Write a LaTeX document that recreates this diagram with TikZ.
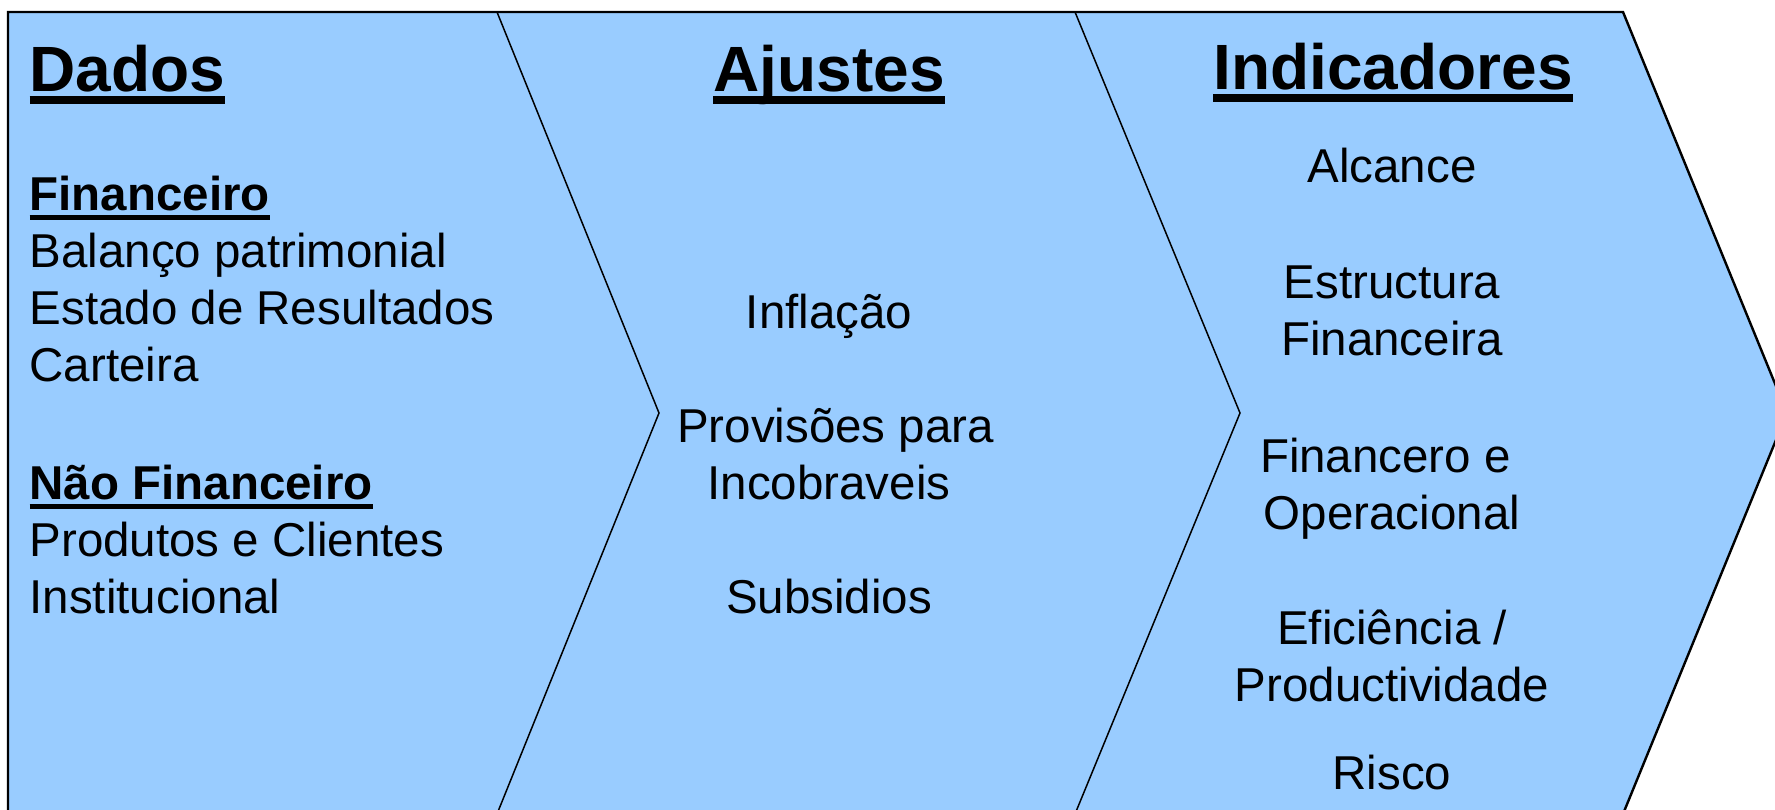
\documentclass[tikz,border=0pt]{standalone}
\usepackage{fontspec}
\setmainfont{Liberation Sans}
\definecolor{panel}{RGB}{153,204,255}
\newcommand{\thickul}[3]{\setbox0=\hbox{#1}\rlap{\rule[-#2]{\wd0}{#3}}\box0}

\begin{document}
\begin{tikzpicture}[x = 0.5pt, y = -0.5pt, semithick]
\tikzstyle{title}=[inner sep = 0pt, font = \fontsize{32}{38}\selectfont\bfseries]
\tikzstyle{entry}=[inner sep = 0pt, font = \fontsize{23.75}{28.5}\selectfont]
\tikzstyle{outline}=[draw = black, line width = 1.2pt, fill = panel]
\tikzstyle{divider}=[draw = black, line width = 0.75pt]

\useasboundingbox (0,0) rectangle (1775,809);
\clip (0,0) rectangle (1775,809);

% the three chevrons
\coordinate (NW) at (8,12);
\coordinate (SW) at (8,814);
\coordinate (tip) at (1787,413);
\draw[outline] (NW) -- (1623,12) -- (tip) -- (1623,814) -- (SW) -- cycle;
\coordinate (tipA) at (659,413);
\coordinate (tipB) at (1240,413);
\draw[divider] (497,12) -- (tipA) -- (497,814);
\draw[divider] (1075,12) -- (tipB) -- (1075,814);

% Dados (multi-line nodes sit on their last line)
\node[title, anchor = base west] (dados) at (29,91) {\thickul{Dados}{6.7pt}{4pt}};
\node[entry, align = left, anchor = base west] (fin) at (29,381)
  {\thickul{\bfseries Financeiro}{5pt}{2.5pt}\\Balanço patrimonial\\Estado de Resultados\\Carteira};
\node[entry, align = left, anchor = base west] (naofin) at (29,613)
  {\thickul{\bfseries Não Financeiro}{5pt}{2.5pt}\\Produtos e Clientes\\Institucional};

% Ajustes
\node[title, anchor = base] (ajustes) at (829,91) {\thickul{Ajustes}{6.7pt}{4pt}};
\node[entry, align = center, anchor = base] (infl) at (829,613)
  {Inflação\\[28.5pt]\kern.278em Provisões para\\Incobraveis\\[28.5pt]Subsidios};

% Indicadores
\node[title, anchor = base] (indic) at (1393,89) {\thickul{Indicadores}{6.7pt}{4pt}};
\node[entry, align = center, anchor = base] (alc) at (1392,182) {Alcance};
\node[entry, align = center, anchor = base] (estr) at (1392,355) {Estructura\\Financeira};
\node[entry, align = center, anchor = base] (oper) at (1392,529) {Financero e\kern.278em\\Operacional};
\node[entry, align = center, anchor = base] (efic) at (1392,701) {Eficiência /\\Productividade};
\node[entry, align = center, anchor = base] (risco) at (1392,789) {Risco};
\end{tikzpicture}
\end{document}
